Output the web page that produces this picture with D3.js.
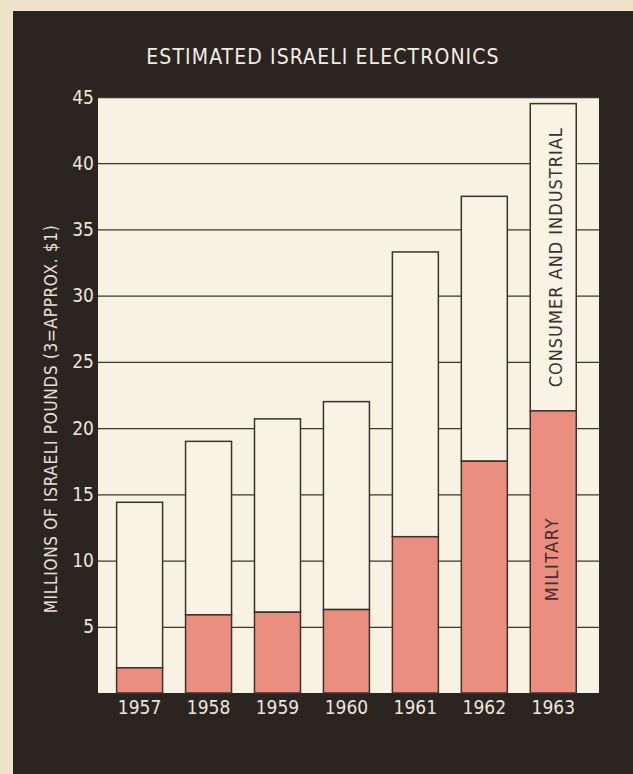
<!DOCTYPE html>
<html>
<head>
<meta charset="utf-8">
<script src="https://cdn.jsdelivr.net/npm/d3@7"></script>
<style>
  body { margin: 0; background: #ede3cb; }
  svg { display: block; }
  text { font-family: "Liberation Sans Narrow", "DejaVu Sans Condensed", sans-serif; }
</style>
</head>
<body>
<div id="chart"></div>
<script>
// data (millions of Israeli pounds)
var years = ["1957", "1958", "1959", "1960", "1961", "1962", "1963"];
var military = [1.9, 5.9, 6.1, 6.3, 11.8, 17.5, 21.3];
var consumer = [12.5, 13.1, 14.6, 15.7, 21.5, 20.0, 23.2];
var yTicks = [5, 10, 15, 20, 25, 30, 35, 40, 45];

// page + plot geometry
var W = 633, H = 774;
var plot = {left: 98, right: 599, top: 97, bottom: 693};

var svg = d3.select("#chart").append("svg")
    .attr("width", W)
    .attr("height", H);

// dark card behind the chart
svg.append("rect")
    .attr("x", 13).attr("y", 11)
    .attr("width", W - 13).attr("height", H - 11)
    .attr("fill", "#2b2522");

// title
svg.append("text")
    .attr("x", 323).attr("y", 64)
    .attr("text-anchor", "middle")
    .attr("fill", "#f3ede2")
    .attr("font-size", 21)
    .attr("letter-spacing", 1.1)
    .text("ESTIMATED ISRAELI ELECTRONICS");

// scales
var x = d3.scaleBand()
    .domain(years)
    .range([plot.left, plot.right])
    .paddingInner(0.333)
    .paddingOuter(0.3)
    .align(0.45);
var y = d3.scaleLinear()
    .domain([0, 45])
    .range([plot.bottom, plot.top]);

// cream plot area
svg.append("rect")
    .attr("x", plot.left).attr("y", plot.top)
    .attr("width", plot.right - plot.left)
    .attr("height", plot.bottom - plot.top)
    .attr("fill", "#f7f2e2");

// y axis with gridlines across the plot
var yAxis = svg.append("g")
    .attr("transform", "translate(" + plot.left + ",0)")
    .call(d3.axisLeft(y).tickValues(yTicks).tickSize(-(plot.right - plot.left)).tickPadding(4));
yAxis.select(".domain").remove();
yAxis.selectAll(".tick line")
    .attr("stroke", "#3d3632")
    .attr("stroke-width", 1.3);
yAxis.selectAll(".tick text")
    .attr("fill", "#ece6da")
    .attr("font-size", 19);

// stack the two series
var rows = years.map(function(d, i) {
  return {year: d, military: military[i], consumer: consumer[i]};
});
var series = d3.stack().keys(["military", "consumer"])(rows);
var fills = {military: "#ea8e7f", consumer: "#f8f3e4"};

// consumer drawn first (full outline), military on top
[series[1], series[0]].forEach(function(s) {
  svg.append("g").selectAll("rect")
      .data(s)
    .enter().append("rect")
      .attr("x", function(d) { return x(d.data.year); })
      .attr("width", x.bandwidth())
      .attr("y", function(d) { return y(d[1]); })
      .attr("height", function(d) { return y(d[0]) - y(d[1]); })
      .attr("fill", fills[s.key])
      .attr("stroke", "#3a322e")
      .attr("stroke-width", 1.5);
});

// x axis labels
var xAxis = svg.append("g")
    .attr("transform", "translate(0," + plot.bottom + ")")
    .call(d3.axisBottom(x).tickSize(0).tickPadding(8));
xAxis.select(".domain").remove();
xAxis.selectAll(".tick text")
    .attr("fill", "#ece6da")
    .attr("font-size", 19);

// y axis title
svg.append("text")
    .attr("transform", "translate(57,419) rotate(-90)")
    .attr("text-anchor", "middle")
    .attr("fill", "#e6e0d4")
    .attr("font-size", 17)
    .attr("letter-spacing", 0.7)
    .text("MILLIONS OF ISRAELI POUNDS (3=APPROX. $1)");

// series labels inside the last bar
var i6 = years.length - 1;
var cx = x(years[i6]) + x.bandwidth() / 2;
svg.append("text")
    .attr("transform", "translate(" + (cx + 9) + "," + y(military[i6] + consumer[i6] / 2) + ") rotate(-90)")
    .attr("text-anchor", "middle")
    .attr("fill", "#3a322e")
    .attr("font-size", 18)
    .attr("letter-spacing", 1)
    .text("CONSUMER AND INDUSTRIAL");
svg.append("text")
    .attr("transform", "translate(" + (cx + 5) + "," + y(military[i6] / 2 - 0.55) + ") rotate(-90)")
    .attr("text-anchor", "middle")
    .attr("fill", "#3a322e")
    .attr("font-size", 18)
    .attr("letter-spacing", 1.5)
    .text("MILITARY");
</script>
</body>
</html>
